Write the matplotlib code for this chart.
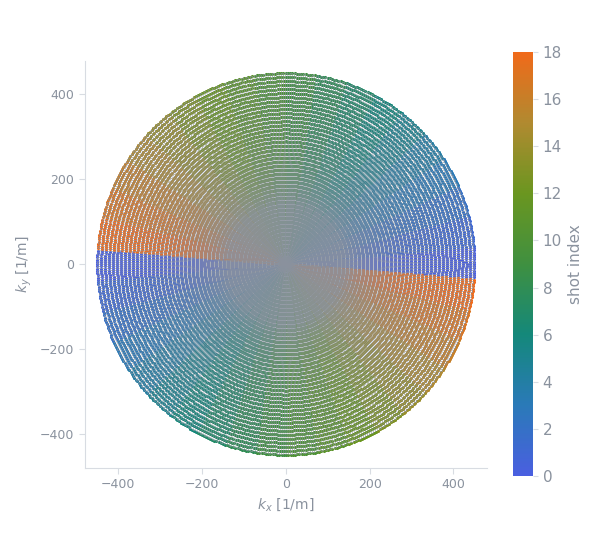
import numpy as np
import matplotlib
matplotlib.use("Agg")
import matplotlib.pyplot as plt
from matplotlib.colors import LinearSegmentedColormap

# trajectory parameters
shot_indices = list(range(19))
spokes_per_shot = 14
samples_per_spoke = 96
k_max = 450.0
angle_start_deg = -4.0
colorbar_ticks = [0, 2, 4, 6, 8, 10, 12, 14, 16, 18]

cmap = LinearSegmentedColormap.from_list(
    "shots", ["#4a5fe0", "#2a7ab8", "#14887a", "#3f9040", "#6a9620", "#b08a30", "#f06a1a"])

n_sp = len(shot_indices) * spokes_per_shot
fig = plt.figure(figsize=(6.05, 5.5), dpi=100)
ax = fig.add_axes([0.14, 0.15, 0.665, 0.74])
cax = fig.add_axes([0.848, 0.135, 0.033, 0.77])
txt = "#8a929e"
r = np.linspace(-k_max, k_max, samples_per_spoke)

def shot_traj(s):
    xs, ys = [], []
    for j in range(spokes_per_shot):
        idx = s * spokes_per_shot + j
        th = np.deg2rad(angle_start_deg + 180.0 * idx / n_sp)
        rr = r if j % 2 == 0 else r[::-1]
        xs.append(rr * np.cos(th)); ys.append(rr * np.sin(th))
    return np.concatenate(xs), np.concatenate(ys)

for s in shot_indices:
    xs, ys = shot_traj(s)
    ax.scatter(xs, ys, s=5, color=cmap(s / 18), lw=0, zorder=1)
for s in shot_indices:
    xs, ys = shot_traj(s)
    ax.plot(xs, ys, color="#8a929e", lw=0.5, alpha=0.9, zorder=2)

ax.set_xlim(-480, 480); ax.set_ylim(-480, 480)
ax.set_xticks([-400, -200, 0, 200, 400]); ax.set_yticks([-400, -200, 0, 200, 400])
ax.set_xticklabels(["\u2212400", "\u2212200", "0", "200", "400"])
ax.set_yticklabels(["\u2212400", "\u2212200", "0", "200", "400"])
for sp in ["top", "right"]:
    ax.spines[sp].set_visible(False)
for sp in ["left", "bottom"]:
    ax.spines[sp].set_color("#d8dce2")
ax.tick_params(colors=txt, labelsize=9, length=4, color="#d8dce2")
ax.set_xlabel("$k_x$ [1/m]", color=txt, fontsize=10)
ax.set_ylabel("$k_y$ [1/m]", color=txt, fontsize=10)

sm = matplotlib.cm.ScalarMappable(cmap=cmap, norm=plt.Normalize(0, 18))
cb = fig.colorbar(sm, cax=cax, ticks=colorbar_ticks)
cb.outline.set_visible(False)
cb.ax.tick_params(colors=txt, labelsize=11, color="#d8dce2")
cb.set_label("shot index", color=txt, fontsize=11)
fig.savefig("out.png")
